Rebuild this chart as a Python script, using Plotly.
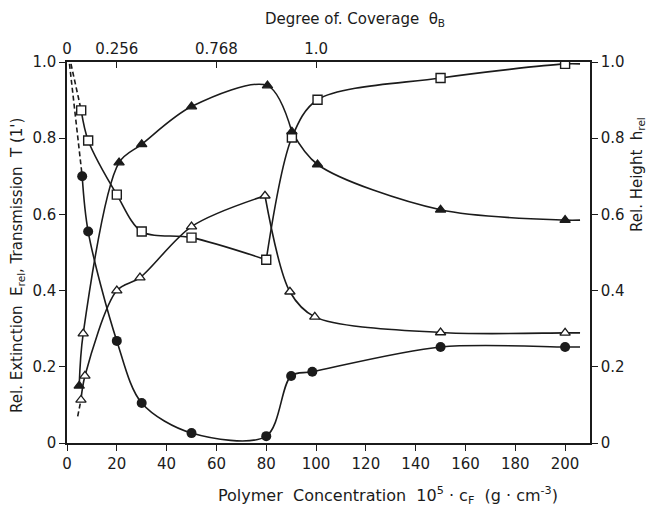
import plotly.graph_objects as go

# ---------------- data ----------------
# filled circles
c_circ = [6.1, 8.5, 20, 30, 50, 80, 90, 98.5, 150, 200]
y_circ = [0.70, 0.555, 0.268, 0.105, 0.026, 0.018, 0.176, 0.187, 0.252, 0.252]
# open squares
c_sq = [5.7, 8.5, 20, 30, 50, 80, 90.3, 100.6, 150, 200]
y_sq = [0.873, 0.794, 0.652, 0.555, 0.539, 0.481, 0.802, 0.901, 0.958, 0.995]
# filled triangles (second point printed as open symbol)
c_trf = [4.9, 6.5, 20.9, 30, 50, 80.5, 90.3, 100.6, 150, 200]
y_trf = [0.15, 0.287, 0.736, 0.784, 0.883, 0.938, 0.817, 0.731, 0.612, 0.585]
trf_open = [False, True, False, False, False, False, False, False, False, False]
# open triangles
c_tro = [5.6, 7.2, 20, 29.3, 50, 79.5, 89.5, 99.5, 150, 200]
y_tro = [0.113, 0.176, 0.40, 0.434, 0.568, 0.649, 0.397, 0.331, 0.29, 0.289]

# dashed extrapolations toward c -> 0
ext_circ_c = [1.0, 6.1]
ext_circ_y = [0.995, 0.70]
ext_sq_c = [1.6, 5.7]
ext_sq_y = [0.995, 0.873]
ext_tro_c = [4.3, 5.6]
ext_tro_y = [0.07, 0.113]

tail_c = 206  # short continuation past the last point

x_ticks = [0, 20, 40, 60, 80, 100, 120, 140, 160, 180, 200]
y_ticks = [0, 0.2, 0.4, 0.6, 0.8, 1.0]
y_ticklabels = ["0", "0.2", "0.4", "0.6", "0.8", "1.0"]
top_tickvals = [0, 20, 60, 100]
top_ticktext = ["0", "0.256", "0.768", "1.0"]

# ---------------- figure ----------------
INK = "#1b1b1b"
FONT = "DejaVu Sans"
W, H = 655, 513
L, R, T, B = 67, 65, 62, 70

fig = go.Figure()


def add_line(xs, ys, dash="solid", smoothing=0.9):
    fig.add_trace(go.Scatter(x=xs, y=ys, mode="lines",
                             line=dict(color=INK, width=1.6, shape="spline",
                                       smoothing=smoothing, dash=dash),
                             hoverinfo="skip", showlegend=False))


def add_series(cs, ys, breaks):
    xs = list(cs) + [tail_c]
    yy = list(ys) + [ys[-1]]
    idx = [0] + breaks + [len(xs) - 1]
    for a, b in zip(idx[:-1], idx[1:]):
        add_line(xs[a:b + 1], yy[a:b + 1])


add_series(c_circ, y_circ, [])
add_series(c_sq, y_sq, [5])
add_series(c_trf, y_trf, [6])
add_series(c_tro, y_tro, [5])

add_line(ext_circ_c, ext_circ_y, dash="5px,3px")
add_line(ext_sq_c, ext_sq_y, dash="5px,3px")
add_line(ext_tro_c, ext_tro_y, dash="5px,3px")

# markers
fig.add_trace(go.Scatter(x=c_circ, y=y_circ, mode="markers",
                         marker=dict(symbol="circle", size=10, color=INK,
                                     line=dict(width=0)),
                         showlegend=False))
fig.add_trace(go.Scatter(x=c_sq, y=y_sq, mode="markers",
                         marker=dict(symbol="square", size=9, color="white",
                                     line=dict(width=1.4, color=INK)),
                         showlegend=False))
fig.add_trace(go.Scatter(x=c_trf, y=y_trf, mode="markers",
                         marker=dict(symbol="triangle-up", size=9,
                                     color=["white" if o else INK for o in trf_open],
                                     line=dict(width=1.3, color=INK)),
                         showlegend=False))
fig.add_trace(go.Scatter(x=c_tro, y=y_tro, mode="markers",
                         marker=dict(symbol="triangle-up", size=9, color="white",
                                     line=dict(width=1.3, color=INK)),
                         showlegend=False))

# invisible traces to anchor the top and right axes
fig.add_trace(go.Scatter(x=[0], y=[0], xaxis="x2", yaxis="y", mode="markers",
                         marker=dict(opacity=0), showlegend=False, hoverinfo="skip"))
fig.add_trace(go.Scatter(x=[0], y=[0], xaxis="x", yaxis="y2", mode="markers",
                         marker=dict(opacity=0), showlegend=False, hoverinfo="skip"))

XR = [0, 210]
YR = [0, 1.0]
tickfont = dict(family=FONT, size=15, color=INK)

fig.update_layout(
    width=W, height=H,
    margin=dict(l=L, r=R, t=T, b=B),
    paper_bgcolor="white", plot_bgcolor="white",
    showlegend=False,
    xaxis=dict(range=XR, tickvals=x_ticks, ticks="outside", ticklen=6,
               tickwidth=1.3, tickcolor=INK, showline=True, linecolor=INK,
               linewidth=1.5, showgrid=False, zeroline=False, tickfont=tickfont),
    xaxis2=dict(range=XR, overlaying="x", side="top", tickvals=top_tickvals,
                ticktext=top_ticktext, ticks="inside", ticklen=6, tickwidth=1.3,
                tickcolor=INK, showline=True, linecolor=INK, linewidth=1.5,
                showgrid=False, zeroline=False, tickfont=tickfont),
    yaxis=dict(range=YR, tickvals=y_ticks, ticktext=y_ticklabels, ticks="outside",
               ticklen=6, tickwidth=1.3, tickcolor=INK, showline=True,
               linecolor=INK, linewidth=1.5, showgrid=False, zeroline=False,
               tickfont=tickfont),
    yaxis2=dict(range=YR, overlaying="y", side="right", tickvals=y_ticks,
                ticktext=y_ticklabels, ticks="outside", ticklen=6, tickwidth=1.3,
                tickcolor=INK, showline=True, linecolor=INK, linewidth=1.5,
                showgrid=False, zeroline=False, tickfont=tickfont),
)


def px_x(px):
    return (px - L) / (W - L - R)


def px_y(py):
    return (H - B - py) / (H - T - B)


annots = [
    dict(text="Degree of. Coverage  θ<sub>B</sub>", x=px_x(355), y=px_y(20),
         textangle=0, size=15),
    dict(text="Polymer  Concentration  10<sup>5</sup> · c<sub>F</sub>  (g · cm<sup>-3</sup>)",
         x=px_x(388), y=px_y(496), textangle=0, size=16),
    dict(text="Rel. Extinction  E<sub>rel</sub>, Transmission  T (1')",
         x=px_x(17), y=px_y(266), textangle=-90, size=15),
    dict(text="Rel. Height  h<sub>rel</sub>", x=px_x(637), y=px_y(175),
         textangle=-90, size=15),
]
for a in annots:
    size = a.pop("size")
    fig.add_annotation(xref="paper", yref="paper", showarrow=False,
                       xanchor="center", yanchor="middle",
                       font=dict(family=FONT, size=size, color=INK), **a)

fig.write_html("out.html")
